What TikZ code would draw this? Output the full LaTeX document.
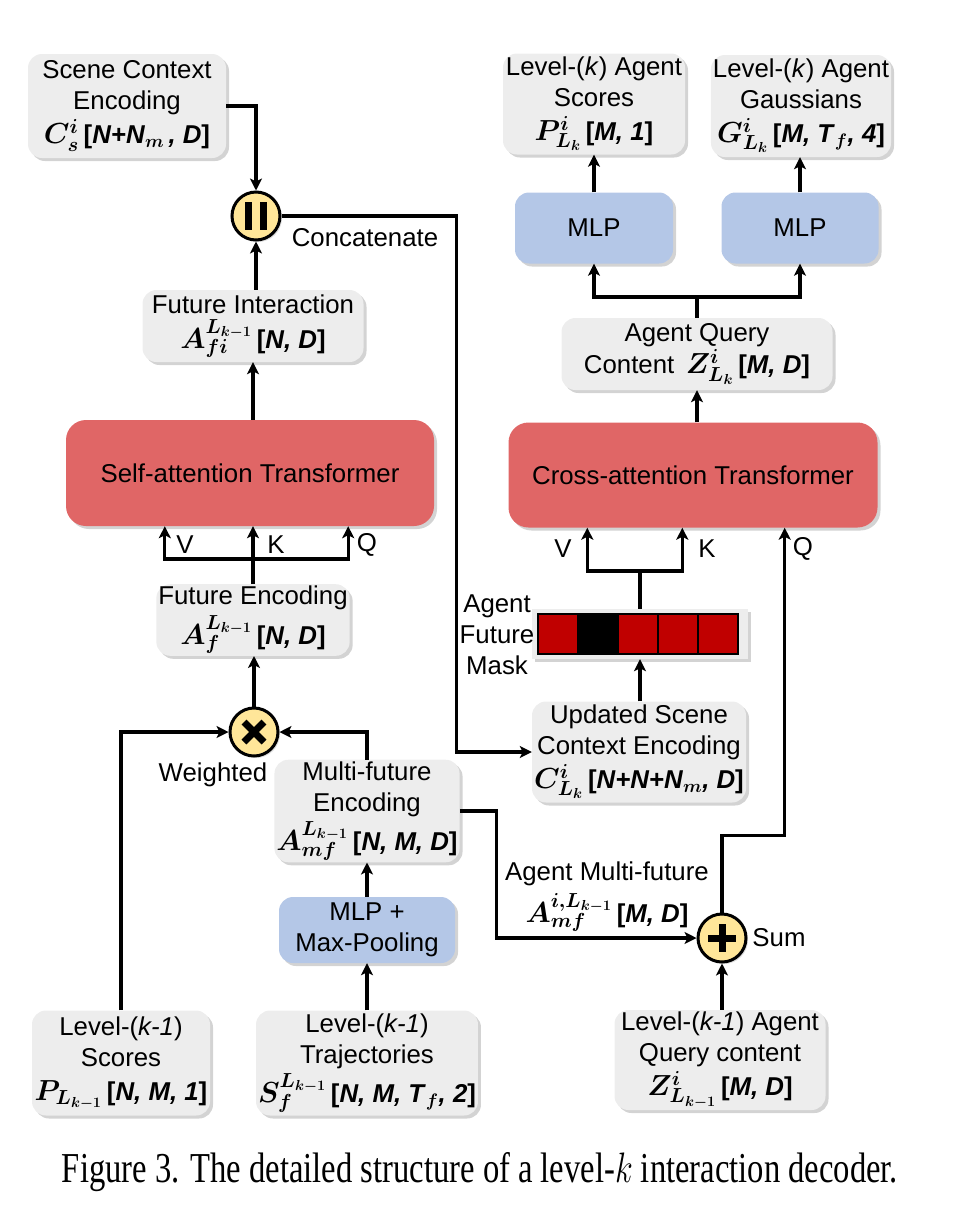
\RequirePackage{fix-cm}
\documentclass[tikz,border=0pt]{standalone}
\usepackage[no-math]{fontspec}
\setmainfont{Liberation Sans}
\newfontfamily\capfont{Liberation Serif}
\usepackage{bm}
\usepackage{graphicx}
\usepackage{xcolor}
\usepackage{tikz}
\usetikzlibrary{arrows.meta, shadows}
\definecolor{boxgray}{HTML}{EDEDED}
\definecolor{mlpblue}{HTML}{B4C7E7}
\definecolor{attred}{HTML}{E06666}
\definecolor{opyellow}{HTML}{FFE699}
\definecolor{maskred}{HTML}{C00000}
\tikzset{
  infobox/.style={fill=boxgray,rounded corners=14pt,align=center,inner sep=2pt,
    drop shadow={opacity=0.35,shadow xshift=3pt,shadow yshift=-3pt}},
  mlpbox/.style={infobox,fill=mlpblue},
  attbox/.style={infobox,fill=attred,rounded corners=20pt},
  maskbox/.style={fill=boxgray,drop shadow={opacity=0.35,shadow xshift=3pt,shadow yshift=-3pt}},
  cellbox/.style={draw=black,line width=1.4pt},
  opnode/.style={circle,draw=black,line width=3pt,fill=opyellow,minimum size=48pt,inner sep=0pt,
    drop shadow={opacity=0.25,shadow xshift=2pt,shadow yshift=-2pt}},
  opmark/.style={line width=7pt},
  flow/.style={line width=3.2pt,-{Stealth[length=12pt,width=12pt,inset=3pt]}},
  link/.style={line width=3.2pt},
  lbl/.style={inner sep=0pt,align=center},
}
\newcommand{\dimtxt}[1]{\textbf{[\textit{#1}]}}
\newcommand{\mth}[1]{{\fontsize{29}{31}\selectfont$\bm{#1}$\,}}

\begin{document}
\begin{tikzpicture}[x=1pt,y=-1pt,font=\fontsize{25.8}{31}\selectfont]
  \useasboundingbox (0,0) rectangle (975,1219);
  % left column
  \node[infobox,minimum width=198pt,minimum height=104pt] (scene) at (127,106)
    {Scene Context\\Encoding\\[3pt]\mth{C^{i}_{s}}\textbf{[\textit{N+N}$_{\bm m}$\,\textit{, D}]}};
  \node[opnode] (concat) at (256,216) {};
  \node[infobox,minimum width=221pt,minimum height=72pt] (futint) at (253,326)
    {Future Interaction\\[4pt]\mth{A^{L_{k-1}}_{fi}}\dimtxt{N, D}};
  \node[attbox,minimum width=368pt,minimum height=106pt] (selfatt) at (250,473) {Self-attention Transformer};
  \node[infobox,minimum width=193pt,minimum height=70pt] (futenc) at (253,620)
    {Future Encoding\\[4pt]\mth{A^{L_{k-1}}_{f}}\dimtxt{N, D}};
  \node[opnode] (weighted) at (254,732) {};
  \node[infobox,minimum width=178pt,minimum height=100pt] (mfenc) at (367,811)
    {Multi-future\\Encoding\\[4pt]\mth{A^{L_{k-1}}_{mf}}\dimtxt{N, M, D}};
  \node[mlpbox,minimum width=176pt,minimum height=66pt] (mlppool) at (367,930) {MLP +\\Max-Pooling};
  \node[infobox,minimum width=212pt,minimum height=105pt] (traj) at (367,1063)
    {Level-(\textit{k-1})\\Trajectories\\[4pt]\mth{S^{L_{k-1}}_{f}}\textbf{[\textit{N, M, T}$_{\bm f}$\textit{, 2}]}};
  \node[infobox,minimum width=178pt,minimum height=105pt] (scores) at (121,1063)
    {Level-(\textit{k-1})\\Scores\\[3pt]\mth{P_{L_{k-1}}}\dimtxt{N, M, 1}};
  % right column
  \node[infobox,minimum width=182pt,minimum height=101pt] (outscore) at (594,104)
    {Level-(\textit{k}) Agent\\Scores\\[3pt]\mth{P^{i}_{L_k}}\dimtxt{M, 1}};
  \node[infobox,minimum width=179pt,minimum height=102pt] (outgauss) at (801,106)
    {Level-(\textit{k}) Agent\\Gaussians\\[3pt]\mth{G^{i}_{L_k}}\textbf{[\textit{M, T}$_{\bm f}$\textit{, 4}]}};
  \node[mlpbox,minimum width=158pt,minimum height=71pt] (mlp1) at (594,228) {MLP};
  \node[mlpbox,minimum width=157pt,minimum height=71pt] (mlp2) at (800,228) {MLP};
  \node[infobox,minimum width=271pt,minimum height=72pt] (aqc) at (697,354)
    {Agent Query\\[1pt]Content\, \mth{Z^{i}_{L_k}}\dimtxt{M, D}};
  \node[attbox,minimum width=369pt,minimum height=105pt] (crossatt) at (693,475) {Cross-attention Transformer};
  \node[maskbox,minimum width=216pt,minimum height=50pt] (mask) at (640,634) {};
  \foreach \i/\c in {0/maskred,1/black,2/maskred,3/maskred,4/maskred}
    \draw[cellbox,fill=\c] (mask.west) ++(6+40*\i,-20) rectangle ++(40,40);
  \node[infobox,minimum width=214pt,minimum height=101pt] (updated) at (639,752)
    {Updated Scene\\Context Encoding\\[3pt]\mth{C^{i}_{L_k}}\textbf{[\textit{N+N+N}$_{\bm m}$\textit{, D}]}};
  \node[opnode] (sum) at (722,938) {};
  \node[infobox,minimum width=211pt,minimum height=100pt] (query) at (720,1060)
    {Level-(\textit{k-1}) Agent\\Query content\\[3pt]\mth{Z^{i}_{L_{k-1}}}\dimtxt{M, D}};

  % operator marks
  \fill (concat) ++(-11,-14) rectangle ++(7,28);
  \fill (concat) ++(4,-14) rectangle ++(7,28);
  \draw[opmark] (weighted) ++(-10,-10) -- ++(20,20);
  \draw[opmark] (weighted) ++(-10,10) -- ++(20,-20);
  \draw[opmark] (sum) ++(-14,0) -- ++(28,0);
  \draw[opmark] (sum) ++(0,-14) -- ++(0,28);

  % labels
  \node[lbl] (lconcat) at (365,238) {Concatenate};
  \node[lbl] (lweighted) at (213,775) {Weighted};
  \node[lbl] (lsum) at (779,938) {Sum};
  \node[lbl] (lmask) at (497,635) {Agent\\Future\\Mask};
  \node[lbl] (lagent) at (607,897) {Agent Multi-future\\[6pt]\mth{A^{i,L_{k-1}}_{mf}}\dimtxt{M, D}};
  \node[lbl] (lv) at (185,545) {V};
  \node[lbl] (lk) at (276,545) {K};
  \node[lbl] (lq) at (367,545) {Q};
  \node[lbl] (rv) at (563,549) {V};
  \node[lbl] (rk) at (707,549) {K};
  \node[lbl] (rq) at (803,549) {Q};

  % connectors
  \draw[flow] (scene.east) -| (concat.north);
  \draw[flow] (futint.north -| concat) -- (concat.south);
  \draw[flow] (concat.east) -- ++(175,0) |- (updated.west);
  \draw[flow] (futint.south |- selfatt.north) -- (futint.south);
  \coordinate (lfork) at (253,559);
  \draw[link] (futenc.north) -- (lfork);
  \draw[flow] (lfork) -- (lfork |- selfatt.south);
  \draw[flow] (lfork) -| ([xshift=99pt]selfatt.south west);
  \draw[flow] (lfork) -| ([xshift=-86pt]selfatt.south east);
  \draw[flow] (weighted.north) -- (weighted.north |- futenc.south);
  \draw[flow] (scores.north) |- (weighted.west);
  \draw[flow] (mfenc.north) |- (weighted.east);
  \draw[flow] (mlppool.north) -- (mfenc.south);
  \draw[flow] (traj.north) -- (mlppool.south);
  \draw[flow] (mfenc.east) -- ++(37,0) |- (sum.west);
  \draw[flow] (sum.south |- query.north) -- (sum.south);
  \draw[flow] (sum.north) -- ++(0,-77) -| ([xshift=-93pt]crossatt.south east);
  \draw[flow] (updated.north -| mask) -- (mask.south);
  \coordinate (rfork) at (640,571);
  \draw[link] (mask.north) -- (rfork);
  \draw[flow] (rfork) -| ([xshift=79pt]crossatt.south west);
  \draw[flow] (rfork) -| ([xshift=174pt]crossatt.south west);
  \draw[flow] (aqc.south |- crossatt.north) -- (aqc.south);
  \coordinate (tfork) at (697,297);
  \draw[link] (aqc.north) -- (tfork);
  \draw[flow] (tfork) -| (mlp1.south);
  \draw[flow] (tfork) -| (mlp2.south);
  \draw[flow] (mlp1.north) -- (outscore.south);
  \draw[flow] (mlp2.north) -- (mlp2.north |- outgauss.south);

  % caption
  \node[anchor=base] (caption) at (480,1182)
    {\resizebox{836pt}{30pt}{\capfont Figure 3. The detailed structure of a level-$k$ interaction decoder.}};
\end{tikzpicture}
\end{document}
